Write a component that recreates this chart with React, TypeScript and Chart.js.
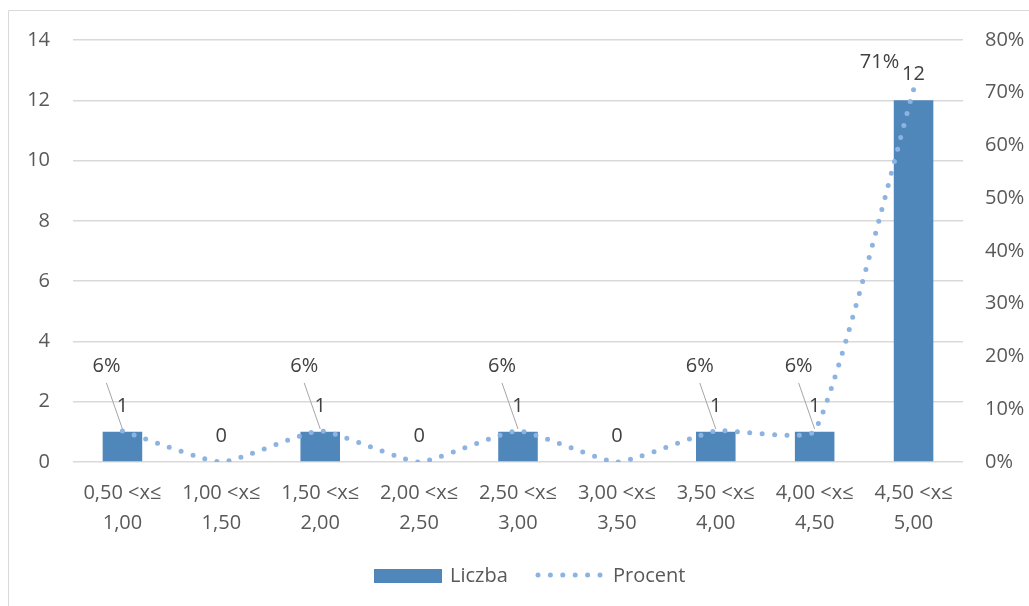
import React, { useEffect, useRef } from "react";
import { Chart, registerables } from "chart.js";

Chart.register(...registerables);

const categories: string[][] = [
  ["0,50 <x≤", "1,00"],
  ["1,00 <x≤", "1,50"],
  ["1,50 <x≤", "2,00"],
  ["2,00 <x≤", "2,50"],
  ["2,50 <x≤", "3,00"],
  ["3,00 <x≤", "3,50"],
  ["3,50 <x≤", "4,00"],
  ["4,00 <x≤", "4,50"],
  ["4,50 <x≤", "5,00"],
];
const liczba = [1, 0, 1, 0, 1, 0, 1, 1, 12];
const procent = [0.0588, 0, 0.0588, 0, 0.0588, 0, 0.0588, 0.0588, 0.7059];
const leftMax = 14;
const leftStep = 2;
const rightMax = 0.8;
const rightStep = 0.1;
const seriesNames = ["Liczba", "Procent"];

const BAR_COLOR = "#4F87BB";
const LINE_COLOR = "#8DB3E2";
const FONT = "'Open Sans', 'DejaVu Sans', sans-serif";

export default function App() {
  const ref = useRef<HTMLCanvasElement | null>(null);

  useEffect(() => {
    const canvas = ref.current;
    if (!canvas) return;

    const decor = {
      id: "decor",
      beforeDraw(chart: any) {
        const ctx = chart.ctx;
        ctx.save();
        ctx.fillStyle = "#ffffff";
        ctx.fillRect(0, 0, chart.width, chart.height);
        ctx.strokeStyle = "#D9D9D9";
        ctx.lineWidth = 1;
        ctx.beginPath();
        ctx.moveTo(8.5, chart.height + 5);
        ctx.lineTo(8.5, 10.5);
        ctx.lineTo(chart.width + 5, 10.5);
        ctx.stroke();
        ctx.restore();
      },
      afterDatasetsDraw(chart: any) {
        const ctx = chart.ctx;
        ctx.save();
        ctx.font = `20px ${FONT}`;
        ctx.textAlign = "center";
        ctx.textBaseline = "middle";
        // bar labels
        const barMeta = chart.getDatasetMeta(0);
        barMeta.data.forEach((el: any, i: number) => {
          ctx.fillStyle = "#404040";
          ctx.fillText(String(liczba[i]), el.x, el.y - 26);
        });
        // line labels
        const lineMeta = chart.getDatasetMeta(1);
        lineMeta.data.forEach((el: any, i: number) => {
          const v = procent[i];
          if (!(v > 0)) return;
          const txt = Math.round(v * 100) + "%";
          if (v > 0.5) {
            ctx.fillStyle = "#404040";
            ctx.fillText(txt, el.x - 34, el.y - 27);
          } else {
            const tx = el.x - 16;
            const ty = el.y - 65;
            ctx.strokeStyle = "#A6A6A6";
            ctx.lineWidth = 1;
            ctx.beginPath();
            ctx.moveTo(tx, ty + 17);
            ctx.lineTo(el.x, el.y - 2);
            ctx.stroke();
            ctx.fillStyle = "#404040";
            ctx.fillText(txt, tx, ty);
          }
        });
        ctx.restore();
      },
      afterDraw(chart: any) {
        const ctx = chart.ctx;
        ctx.save();
        const cy = 576;
        ctx.fillStyle = BAR_COLOR;
        ctx.fillRect(374, cy - 7, 68, 14);
        ctx.font = `20px ${FONT}`;
        ctx.textAlign = "left";
        ctx.textBaseline = "middle";
        ctx.fillStyle = "#595959";
        ctx.fillText(seriesNames[0], 450, cy);
        ctx.fillStyle = LINE_COLOR;
        for (let k = 0; k < 6; k++) {
          ctx.beginPath();
          ctx.arc(538 + k * 12.4, cy - 1, 2.5, 0, Math.PI * 2);
          ctx.fill();
        }
        ctx.fillStyle = "#595959";
        ctx.fillText(seriesNames[1], 613, cy);
        ctx.restore();
      },
    };

    const chart = new Chart(canvas, {
      type: "bar",
      data: {
        labels: categories as any,
        datasets: [
          {
            type: "bar",
            label: seriesNames[0],
            data: liczba,
            backgroundColor: BAR_COLOR,
            yAxisID: "y",
            barPercentage: 0.4,
            categoryPercentage: 1,
            order: 1,
          },
          {
            type: "line",
            label: seriesNames[1],
            data: procent,
            borderColor: LINE_COLOR,
            backgroundColor: LINE_COLOR,
            borderWidth: 5,
            borderDash: [0, 12.4],
            borderCapStyle: "round",
            pointRadius: 0,
            tension: 0.15,
            yAxisID: "y1",
            order: 0,
          } as any,
        ],
      },
      options: {
        responsive: false,
        animation: false,
        devicePixelRatio: 1,
        layout: { padding: { top: 40, left: 0, right: 0, bottom: 0 } },
        plugins: {
          legend: { display: false },
          tooltip: { enabled: false },
        },
        scales: {
          x: {
            grid: { display: false, drawTicks: false },
            border: { display: false },
            ticks: {
              color: "#595959",
              font: { family: FONT, size: 20, lineHeight: 1.5 },
              padding: 16,
              maxRotation: 0,
              autoSkip: false,
            },
            afterFit(s: any) {
              s.height = 144;
            },
          },
          y: {
            position: "left",
            min: 0,
            max: leftMax,
            ticks: {
              stepSize: leftStep,
              color: "#595959",
              font: { family: FONT, size: 20 },
              padding: 23,
            },
            grid: { color: "#D9D9D9", lineWidth: 1.5, drawTicks: false },
            border: { display: false },
            afterFit(s: any) {
              s.width = 73;
            },
          },
          y1: {
            position: "right",
            min: 0,
            max: rightMax,
            ticks: {
              stepSize: rightStep,
              color: "#595959",
              font: { family: FONT, size: 20 },
              padding: 22,
              callback: (v: any) => Math.round(Number(v) * 100) + "%",
            },
            grid: { display: false, drawTicks: false },
            border: { display: false },
            afterFit(s: any) {
              s.width = 66;
            },
          },
        },
      },
      plugins: [decor],
    });

    return () => chart.destroy();
  }, []);

  return (
    <div
      style={{
        position: "fixed",
        left: 0,
        top: 0,
        width: 1029,
        height: 606,
        overflow: "hidden",
        background: "#fff",
      }}
    >
      <canvas ref={ref} width={1029} height={606} style={{ display: "block" }} />
    </div>
  );
}
